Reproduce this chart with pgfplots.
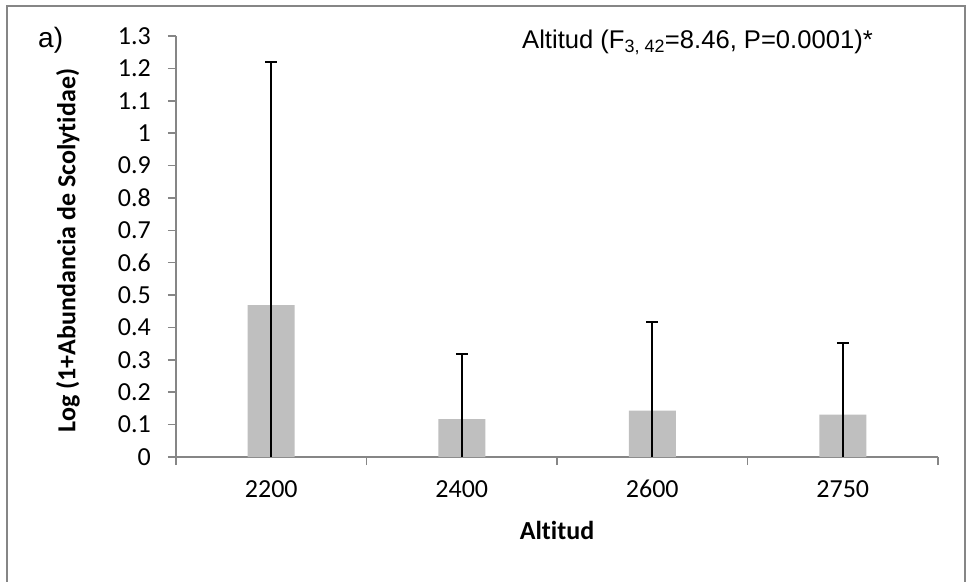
\documentclass[border=0pt]{standalone}
\usepackage{pgfplots}
\pgfplotsset{compat=1.18}
\usepackage{fontspec}
\setmainfont{Carlito}[Ligatures=CommonOff]
\newfontfamily\arial{Liberation Sans}
\definecolor{bargray}{HTML}{BFBFBF}
\definecolor{axgray}{HTML}{868686}

\begin{document}
\begin{tikzpicture}[x=1pt,y=1pt]
\useasboundingbox (-176,-124) rectangle (793,457);
\draw[axgray, line width=1.5pt] (-169,-140) rectangle (789,451);
\begin{axis}[
    at={(0,0)}, anchor=origin,
    scale only axis,
    width=762pt, height=421pt,
    xmin=0, xmax=4,
    ymin=0, ymax=1.3,
    axis lines*=left,
    axis line style={axgray, line width=1.5pt, -},
    ytick distance=0.1,
    yticklabel style={/pgf/number format/fixed, /pgf/number format/precision=1,
      font=\fontsize{26}{30}\selectfont, inner sep=0pt, xshift=-17pt},
    /pgf/number format/assume math mode=true,
    xtick={0.5,1.5,2.5,3.5},
    xticklabels={2200,2400,2600,2750},
    xticklabel style={font=\fontsize{26}{30}\selectfont, inner sep=0pt, yshift=-15pt},
    major x tick style={draw=none},
    minor xtick={0,1,2,3,4},
    tick align=outside,
    major tick length=8pt,
    minor tick length=8pt,
    tick style={axgray, line width=1.5pt},
    xlabel={\bfseries Altitud},
    xlabel style={font=\fontsize{26}{30}\selectfont, at={(0.5,0)}, anchor=center, yshift=-73pt},
    ylabel={\bfseries Log (1+Abundancia de Scolytidae)},
    ylabel style={font=\fontsize{26}{30}\selectfont, at={(0,0.5)}, anchor=center, yshift=108pt, xshift=-4pt},
    clip=false,
]
% bars with upper error bars
\addplot[ybar, bar width=47pt, bar shift=0pt, fill=bargray, draw=none,
  error bars/.cd, y dir=plus, y explicit,
  error bar style={black, line width=2pt},
  error mark options={rotate=90, black, line width=2pt, mark size=6pt}]
  coordinates {
  (0.5,0.469) +- (0,0.750)
  (1.5,0.117) +- (0,0.200)
  (2.5,0.143) +- (0,0.274)
  (3.5,0.131) +- (0,0.222)
};
% lower part of error bars, down to 0
\addplot[ybar, bar width=47pt, bar shift=0pt, fill=none, draw=none,
  error bars/.cd, y dir=minus, y explicit,
  error bar style={black, line width=2pt},
  error mark=none]
  coordinates {
  (0.5,0.469) +- (0,0.469)
  (1.5,0.117) +- (0,0.117)
  (2.5,0.143) +- (0,0.143)
  (3.5,0.131) +- (0,0.131)
};
\end{axis}
\node[anchor=base west, inner sep=0pt, font=\arial\fontsize{28}{32}\selectfont] at (-138,409) {a)};
\node[anchor=base west, inner sep=0pt, font=\arial\fontsize{25.6}{30}\selectfont] at (346,408)
  {Altitud (F\textsubscript{3, 42}=8.46, P=0.0001)*};
\end{tikzpicture}
\end{document}
